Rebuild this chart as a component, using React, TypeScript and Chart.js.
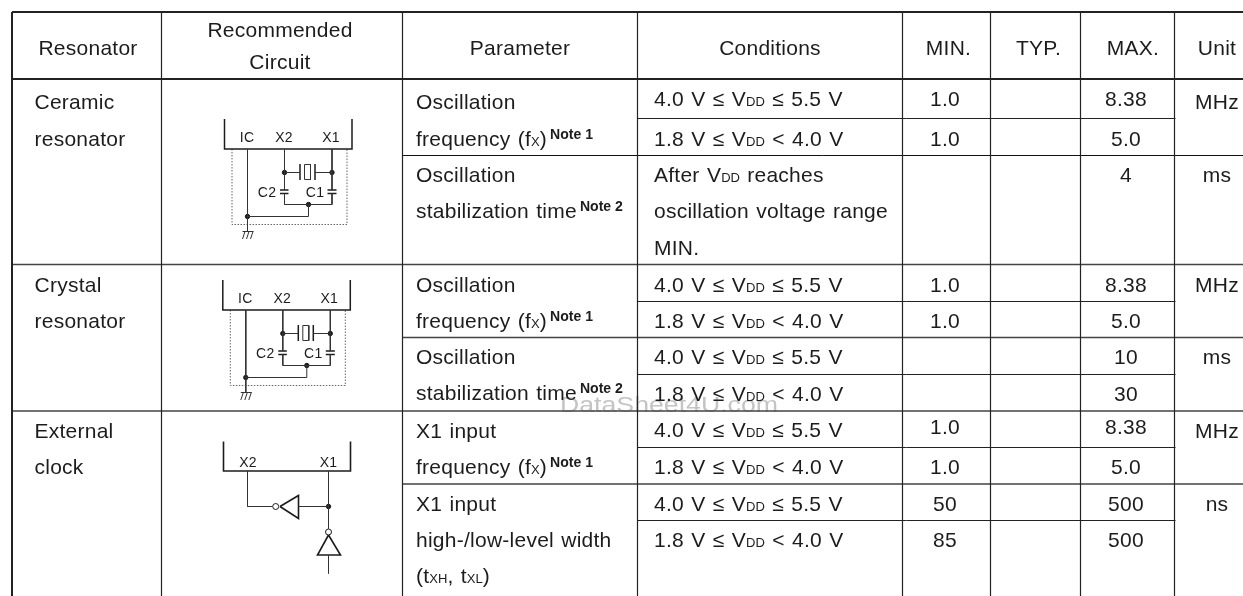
import React, { useEffect, useRef } from "react";
import { Chart, registerables } from "chart.js";

Chart.register(...registerables);

const WIDTH = 1243;
const HEIGHT = 596;
const FONT = '"Liberation Sans", Arial, sans-serif';
const INK = "#1c1c1c";

// ---- table rules (in table units)
const columnEdges = [12, 161.5, 402.5, 637.5, 902.5, 990.5, 1080.5, 1174.5];
const tableTop = 12;
const tableBottom = 596;
const heavyRows = [12, 79];
const spanRows = [155.5];
const midRows = [264.5, 411];
const midSpanRows = [337.5, 484];
const shortRows = [118.5, 301.5, 374.5, 447.5, 520.5];

// ---- table text
const headers = ["Resonator", "Parameter", "Conditions", "MIN.", "TYP.", "MAX.", "Unit"];
const headerCenters = [88, 520, 770, 948.5, 1038.5, 1133, 1217];
const headerBase = 55;
const circuitHeader = ["Recommended", "Circuit"];

const resonators = ["Ceramic", "resonator", "Crystal", "resonator", "External", "clock"];
const resonatorBases = [109, 146, 292, 328, 438, 474];

const parameters = [
  "Oscillation", "frequency (f_{X})^{Note 1}", "Oscillation", "stabilization time^{Note 2}",
  "Oscillation", "frequency (f_{X})^{Note 1}", "Oscillation", "stabilization time^{Note 2}",
  "X1 input", "frequency (f_{X})^{Note 1}", "X1 input", "high-/low-level width", "(t_{XH}, t_{XL})",
];
const parameterBases = [109, 146, 182, 218, 292, 328, 364, 400, 438, 474, 511, 547, 583];

const HI = "4.0 V ≤ V_{DD} ≤ 5.5 V";
const LO = "1.8 V ≤ V_{DD} < 4.0 V";
const conditions = [
  HI, LO, "After V_{DD} reaches", "oscillation voltage range", "MIN.",
  HI, LO, HI, LO, HI, LO, HI, LO,
];
const conditionBases = [106, 145.5, 182, 218, 255, 292, 328, 364, 401, 437, 474, 511, 547];

const minValues = ["1.0", "1.0", "1.0", "1.0", "1.0", "1.0", "50", "85"];
const minBases = [106, 145.5, 292, 328, 434, 474, 511, 547];
const maxValues = ["8.38", "5.0", "4", "8.38", "5.0", "10", "30", "8.38", "5.0", "500", "500"];
const maxBases = [106, 145.5, 182, 291.5, 328, 364, 401, 434, 474, 511, 547];
const units = ["MHz", "ms", "MHz", "ms", "MHz", "ns"];
const unitBases = [109, 182, 291.5, 364, 437.5, 511];

const watermark = "DataSheet4U.com";

// ---- circuit schematics
const oscillatorOrigins = [[0, 0], [-1.7, 161]];
const oscillatorLabels = ["IC", "X2", "X1", "C2", "C1"];
const oscillatorLabelSpots = [[247, 141.5], [284, 141.5], [331, 141.5], [267, 196.5], [315, 196.5]];
const oscillatorWires = [
  [[247.5, 149], [247.5, 231]],
  [[247.5, 216.5], [308.5, 216.5], [308.5, 204.5]],
  [[284.5, 204.5], [332, 204.5]],
  [[284.5, 149], [284.5, 190]],
  [[284.5, 193.5], [284.5, 204.5]],
  [[332, 149], [332, 190]],
  [[332, 193.5], [332, 204.5]],
  [[284.5, 172.5], [300, 172.5]],
  [[315, 172.5], [332, 172.5]],
  [[304.5, 164.5], [310.5, 164.5], [310.5, 179.5], [304.5, 179.5], [304.5, 164.5]],
  [[242.5, 231.5], [253.5, 231.5]],
  [[245, 231.5], [242.5, 239]],
  [[249, 231.5], [246.5, 239]],
  [[253, 231.5], [250.5, 239]],
];
const oscillatorHeavy = [
  [[224.5, 119], [224.5, 149], [352, 149], [352, 119]],
  [[300, 164], [300, 180]],
  [[315, 164], [315, 180]],
  [[280, 190], [288.5, 190]],
  [[280, 193.5], [288.5, 193.5]],
  [[327.5, 190], [336.5, 190]],
  [[327.5, 193.5], [336.5, 193.5]],
];
const oscillatorDots = [[247.5, 216.5], [308.5, 204.5], [284.5, 172.5], [332, 172.5]];
const oscillatorGuard = [[[232, 149], [232, 224.5], [347, 224.5], [347, 149]]];

const clockLabels = ["X2", "X1"];
const clockLabelSpots = [[248, 466.5], [328.5, 466.5]];
const clockWires = [
  [[247.5, 471], [247.5, 506.5], [272.5, 506.5]],
  [[298.5, 506.5], [328.5, 506.5]],
  [[328.5, 471], [328.5, 529]],
  [[328.5, 555], [328.5, 573.5]],
];
const clockHeavy = [
  [[223.5, 441.5], [223.5, 471], [350.5, 471], [350.5, 441.5]],
  [[280, 506.5], [298.5, 495.5], [298.5, 518.5], [280, 506.5]],
  [[328.5, 535], [317.5, 555], [340.5, 555], [328.5, 535]],
];
const clockDots = [[328.5, 506.5]];
const clockBubbles = [[275.7, 506.5], [328.5, 532]];

type Pt = { x: number; y: number };
const GAP: Pt = { x: NaN, y: NaN };

const polyline = (paths: number[][][], dx = 0, dy = 0): Pt[] => {
  const out: Pt[] = [];
  paths.forEach((p) => {
    p.forEach(([x, y]) => out.push({ x: x + dx, y: y + dy }));
    out.push(GAP);
  });
  return out;
};
const horizontal = (ys: number[], x0: number, x1: number) =>
  ys.map((y) => [[x0, y], [x1, y]]);
const verticalRules = columnEdges.slice(1).map((x) => [[x, tableTop], [x, tableBottom]]);
const E = columnEdges;

const lineSet = (data: Pt[], borderWidth: number, borderColor: string, extra = {}) => ({
  data, borderWidth, borderColor, showLine: true, pointRadius: 0, tension: 0, spanGaps: false, fill: false, ...extra,
});
const dotSet = (data: Pt[], radius: number, bg: string) => ({
  data, showLine: false, pointRadius: radius, pointBackgroundColor: bg, pointBorderColor: INK, pointBorderWidth: 1,
});

const osc = (paths: number[][][]) => oscillatorOrigins.flatMap(([dx, dy]) => polyline(paths, dx, dy));

const datasets = [
  lineSet(polyline(verticalRules), 1.2, "#222"),
  lineSet(polyline([[[E[0], tableTop], [E[0], tableBottom]]]), 2, "#222"),
  lineSet(polyline(horizontal(heavyRows, E[0], WIDTH)), 2, "#222"),
  lineSet(polyline(horizontal(midRows, E[0], WIDTH)), 1.4, "#444"),
  lineSet(polyline(horizontal(midSpanRows, E[2], WIDTH)), 1.4, "#444"),
  lineSet(polyline(horizontal(spanRows, E[2], WIDTH)), 1, "#111"),
  lineSet(polyline(horizontal(shortRows, E[3], E[7] + 1)), 1, "#222"),
  lineSet(osc(oscillatorWires), 1, "#333"),
  lineSet(osc(oscillatorHeavy), 1.5, INK),
  lineSet(osc(oscillatorGuard), 1, "#666", { borderDash: [1.5, 1.5] }),
  dotSet(osc(oscillatorDots.map((d) => [d])).filter((p) => !isNaN(p.x)), 2.2, INK),
  lineSet(polyline(clockWires), 1, "#333"),
  lineSet(polyline(clockHeavy), 1.6, INK),
  dotSet(clockDots.map(([x, y]) => ({ x, y })), 2.2, INK),
  dotSet(clockBubbles.map(([x, y]) => ({ x, y })), 3, "#fff"),
];

const BODY = 21;
const SPACING = 0.25;
const WORD_GAP = 1.2;
const NOTE_GAP = 3;

function drawRich(ctx: CanvasRenderingContext2D, text: string, x: number, y: number, align: "left" | "center", size = BODY) {
  const re = /_\{([^}]*)\}|\^\{([^}]*)\}|([^_^]+)/g;
  const runs: { t: string; font: string; rise: number; ls: number; ws: number; lead: number }[] = [];
  let m: RegExpExecArray | null;
  while ((m = re.exec(text))) {
    if (m[1] !== undefined) runs.push({ t: m[1], font: `${size * 0.62}px ${FONT}`, rise: 0, ls: 0, ws: 0, lead: 0 });
    else if (m[2] !== undefined) runs.push({ t: m[2], font: `bold ${size * 0.67}px ${FONT}`, rise: 7.5, ls: 0, ws: 0, lead: NOTE_GAP });
    else runs.push({ t: m[3], font: `${size}px ${FONT}`, rise: 0, ls: SPACING, ws: WORD_GAP, lead: 0 });
  }
  const apply = (r: (typeof runs)[number]) => {
    ctx.font = r.font;
    (ctx as any).letterSpacing = `${r.ls}px`;
    (ctx as any).wordSpacing = `${r.ws}px`;
  };
  let total = 0;
  const widths = runs.map((r) => {
    apply(r);
    const w = ctx.measureText(r.t).width + r.lead;
    total += w;
    return w;
  });
  let cx = align === "center" ? x - total / 2 : x;
  ctx.textAlign = "left";
  ctx.textBaseline = "alphabetic";
  runs.forEach((r, i) => {
    apply(r);
    ctx.fillText(r.t, cx + r.lead, y - r.rise);
    cx += widths[i];
  });
  (ctx as any).letterSpacing = "0px";
  (ctx as any).wordSpacing = "0px";
}

const tableText = {
  id: "tableText",
  beforeDatasetsDraw(chart: any) {
    const { ctx, scales } = chart;
    ctx.save();
    ctx.fillStyle = "#c4c4c4";
    ctx.font = `22px ${FONT}`;
    ctx.textAlign = "left";
    ctx.translate(scales.x.getPixelForValue(560), scales.y.getPixelForValue(412));
    ctx.scale(218 / ctx.measureText(watermark).width, 1);
    ctx.fillText(watermark, 0, 0);
    ctx.restore();
  },
  afterDatasetsDraw(chart: any) {
    const { ctx, scales } = chart;
    const X = (v: number) => scales.x.getPixelForValue(v);
    const Y = (v: number) => scales.y.getPixelForValue(v);
    ctx.save();
    ctx.fillStyle = INK;
    headers.forEach((t, i) => drawRich(ctx, t, X(headerCenters[i]), Y(headerBase), "center"));
    drawRich(ctx, circuitHeader[0], X(280), Y(36.5), "center");
    drawRich(ctx, circuitHeader[1], X(280), Y(68.5), "center");
    resonators.forEach((t, i) => drawRich(ctx, t, X(34.5), Y(resonatorBases[i]), "left"));
    parameters.forEach((t, i) => drawRich(ctx, t, X(416), Y(parameterBases[i]), "left"));
    conditions.forEach((t, i) => drawRich(ctx, t, X(654), Y(conditionBases[i]), "left"));
    minValues.forEach((t, i) => drawRich(ctx, t, X(945), Y(minBases[i]), "center"));
    maxValues.forEach((t, i) => drawRich(ctx, t, X(1126), Y(maxBases[i]), "center"));
    units.forEach((t, i) => drawRich(ctx, t, X(1217), Y(unitBases[i]), "center"));
    oscillatorOrigins.forEach(([dx, dy]) =>
      oscillatorLabels.forEach((t, i) => {
        const [lx, ly] = oscillatorLabelSpots[i];
        drawRich(ctx, t, X(lx + dx), Y(ly + dy), "center", 14);
      })
    );
    clockLabels.forEach((t, i) => {
      const [lx, ly] = clockLabelSpots[i];
      drawRich(ctx, t, X(lx), Y(ly), "center", 14);
    });
    ctx.restore();
  },
};

export default function App() {
  const ref = useRef<HTMLCanvasElement>(null);
  useEffect(() => {
    const chart = new Chart(ref.current as HTMLCanvasElement, {
      type: "scatter",
      data: { datasets: datasets as any },
      options: {
        responsive: false,
        animation: false,
        events: [],
        layout: { padding: 0, autoPadding: false },
        plugins: { legend: { display: false }, tooltip: { enabled: false }, title: { display: false } },
        scales: {
          x: { type: "linear", min: 0, max: WIDTH, display: false },
          y: { type: "linear", min: 0, max: HEIGHT, reverse: true, display: false },
        },
      },
      plugins: [tableText],
    });
    return () => chart.destroy();
  }, []);
  return (
    <canvas
      ref={ref}
      width={WIDTH}
      height={HEIGHT}
      style={{ position: "absolute", left: 0, top: 0, width: WIDTH, height: HEIGHT, display: "block" }}
    />
  );
}
